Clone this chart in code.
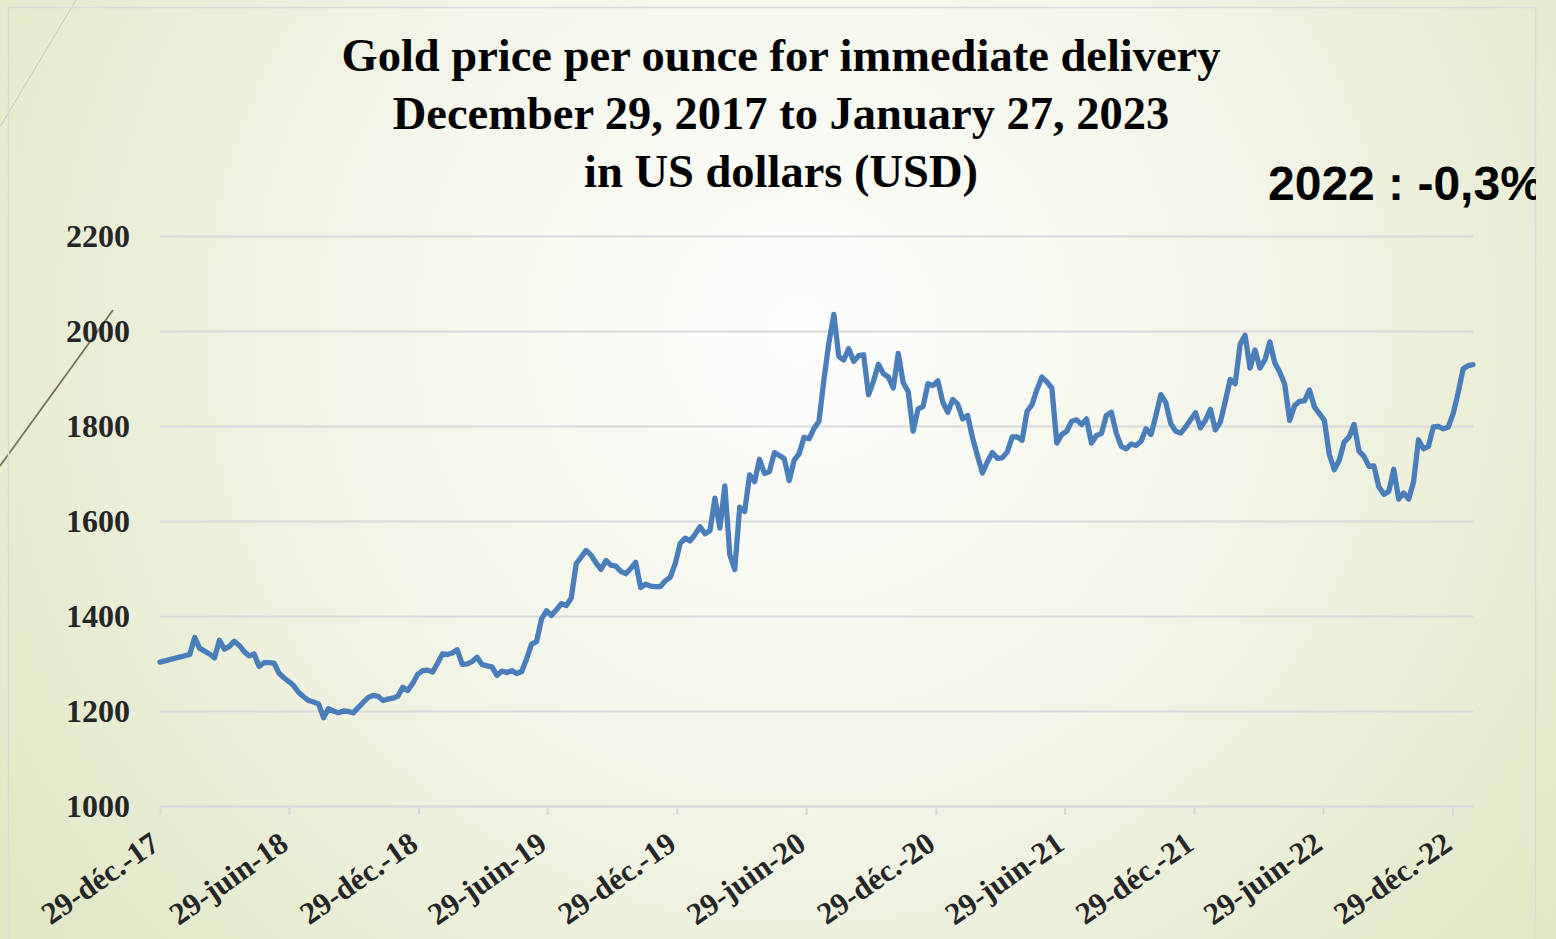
<!DOCTYPE html>
<html>
<head>
<meta charset="utf-8">
<script src="https://cdn.jsdelivr.net/npm/d3@7"></script>
<style>
  html, body { margin: 0; padding: 0; overflow: hidden; }
  svg { display: block; }
</style>
</head>
<body>
<script>
const WIDTH = 1556;
const HEIGHT = 939;
// plot box
const MARGIN = { top: 236, right: 83, bottom: 133, left: 160 };

const TITLE_LINES = [
  "Gold price per ounce for immediate delivery",
  "December 29, 2017 to January 27, 2023",
  "in US dollars (USD)",
];
const NOTE = "2022 : -0,3%";

// first point, then a gap, then one price per week (Friday)
const FIRST_DATE = "2017-12-29";
const FIRST_PRICE = 1303;
const WEEKLY_START = "2018-02-09";
const weeklyPrices = [
  1319, 1355, 1332, 1326, 1320, 1312, 1349, 1330, 1336, 1347,
  1338, 1325, 1316, 1320, 1294, 1302, 1302, 1301, 1280, 1270,
  1262, 1253, 1239, 1230, 1222, 1219, 1215, 1186, 1205, 1200,
  1196, 1200, 1199, 1196, 1207, 1218, 1228, 1233, 1231, 1222,
  1225, 1227, 1231, 1250, 1243, 1258, 1277, 1285, 1286, 1282,
  1300, 1320, 1319, 1322, 1329, 1298, 1299, 1304, 1313, 1298,
  1295, 1293, 1275, 1284, 1281, 1285, 1279, 1283, 1310, 1341,
  1346, 1394, 1411, 1401, 1413, 1426, 1422, 1438, 1510, 1524,
  1538, 1528, 1512, 1498, 1517, 1507, 1505, 1494, 1489, 1500,
  1513, 1460, 1467, 1463, 1462, 1462, 1474, 1482, 1511, 1553,
  1564, 1558, 1572, 1588, 1573, 1580, 1648, 1585, 1674, 1529,
  1498, 1629, 1620, 1697, 1683, 1730, 1700, 1704, 1744, 1738,
  1731, 1685, 1728, 1742, 1776, 1773, 1795, 1810, 1898, 1975,
  2035, 1946, 1939, 1963, 1936, 1948, 1950, 1866, 1894, 1930,
  1910, 1903, 1880, 1953, 1891, 1873, 1789, 1836, 1841, 1889,
  1885, 1895, 1850, 1829, 1856, 1846, 1815, 1822, 1775, 1737,
  1701, 1725, 1744, 1732, 1733, 1745, 1777, 1777, 1770, 1831,
  1845, 1877, 1903, 1893, 1880, 1764, 1782, 1789, 1810, 1813,
  1803, 1815, 1764, 1780, 1784, 1822, 1829, 1785, 1757, 1752,
  1762, 1759, 1768, 1794, 1782, 1822, 1866, 1849, 1805, 1789,
  1785, 1798, 1813, 1828, 1796, 1812, 1835, 1792, 1808, 1852,
  1898, 1889, 1972, 1991, 1922, 1960, 1922, 1939, 1977, 1933,
  1913, 1888, 1812, 1843, 1852, 1853, 1876, 1840, 1826, 1812,
  1740, 1708, 1728, 1766, 1777, 1803, 1747, 1736, 1715, 1716,
  1672, 1656, 1662, 1709, 1646, 1659, 1646, 1682, 1771, 1752,
  1757, 1798, 1799, 1794, 1798, 1826, 1870, 1920, 1927, 1929,
];

const X_DOMAIN = ["2017-12-29", "2023-01-27"];
const tickDates = [
  "2017-12-29", "2018-06-29", "2018-12-29", "2019-06-29", "2019-12-29",
  "2020-06-29", "2020-12-29", "2021-06-29", "2021-12-29", "2022-06-29",
  "2022-12-29",
];
const tickLabels = [
  "29-déc.-17", "29-juin-18", "29-déc.-18", "29-juin-19", "29-déc.-19",
  "29-juin-20", "29-déc.-20", "29-juin-21", "29-déc.-21", "29-juin-22",
  "29-déc.-22",
];
const yTicks = [1000, 1200, 1400, 1600, 1800, 2000, 2200];

const SERIF = "'Liberation Serif', 'DejaVu Serif', serif";
const LINE_COLOR = "#4a7ebb";
const GRID_COLOR = "#d9d9d9";

const parseDate = d3.timeParse("%Y-%m-%d");

// build the series
const series = [{ date: parseDate(FIRST_DATE), price: FIRST_PRICE }];
const weeklyStart = parseDate(WEEKLY_START);
weeklyPrices.forEach((p, i) => {
  series.push({ date: d3.timeDay.offset(weeklyStart, 7 * i), price: p });
});

const svg = d3
  .select("body")
  .append("svg")
  .attr("width", WIDTH)
  .attr("height", HEIGHT);

const defs = svg.append("defs");
const bg = defs
  .append("radialGradient")
  .attr("id", "bg")
  .attr("gradientUnits", "userSpaceOnUse")
  .attr("cx", 800)
  .attr("cy", 330)
  .attr("r", 950);
bg.append("stop").attr("offset", "0%").attr("stop-color", "#fdfdfb");
bg.append("stop").attr("offset", "45%").attr("stop-color", "#f4f6ea");
bg.append("stop").attr("offset", "100%").attr("stop-color", "#e1e8c6");

defs
  .append("clipPath")
  .attr("id", "frame-clip")
  .append("rect")
  .attr("x", 0)
  .attr("y", 0)
  .attr("width", 1536)
  .attr("height", HEIGHT);

svg.append("rect").attr("width", WIDTH).attr("height", HEIGHT).attr("fill", "url(#bg)");

// slide decoration on the left
svg
  .append("line")
  .attr("x1", 0).attr("y1", 127).attr("x2", 76).attr("y2", 0)
  .attr("stroke", "#c9cbb4").attr("stroke-width", 1);
svg
  .append("line")
  .attr("x1", 0).attr("y1", 466).attr("x2", 113).attr("y2", 310)
  .attr("stroke", "#7b7152").attr("stroke-width", 1.8);

// chart frame
svg
  .append("rect")
  .attr("x", 8.5)
  .attr("y", 7.5)
  .attr("width", 1527)
  .attr("height", 960)
  .attr("fill", "none")
  .attr("stroke", GRID_COLOR)
  .attr("stroke-width", 1.5);

const xScale = d3
  .scaleTime()
  .domain(X_DOMAIN.map(parseDate))
  .range([MARGIN.left, WIDTH - MARGIN.right]);

const yScale = d3
  .scaleLinear()
  .domain([1000, 2200])
  .range([HEIGHT - MARGIN.bottom, MARGIN.top]);

// y axis with gridlines
const yAxis = svg
  .append("g")
  .attr("transform", `translate(${MARGIN.left}, 0)`)
  .call(
    d3
      .axisLeft(yScale)
      .tickValues(yTicks)
      .tickSize(-(WIDTH - MARGIN.right - MARGIN.left))
      .tickPadding(30)
      .tickFormat(d3.format("d"))
  );
yAxis.select(".domain").remove();
yAxis.selectAll(".tick line").attr("stroke", GRID_COLOR).attr("stroke-width", 2);
yAxis
  .selectAll(".tick text")
  .attr("fill", "#262626")
  .attr("font-family", SERIF)
  .attr("font-weight", "bold")
  .attr("font-size", "32px");

// x axis
const xAxis = svg
  .append("g")
  .attr("transform", `translate(0, ${HEIGHT - MARGIN.bottom})`)
  .call(
    d3
      .axisBottom(xScale)
      .tickValues(tickDates.map(parseDate))
      .tickSizeInner(9)
      .tickSizeOuter(0)
      .tickFormat((d, i) => tickLabels[i])
  );
xAxis.select(".domain").attr("stroke", GRID_COLOR).attr("stroke-width", 2);
xAxis.selectAll(".tick line").attr("stroke", GRID_COLOR).attr("stroke-width", 2);
xAxis
  .selectAll(".tick text")
  .attr("fill", "#262626")
  .attr("font-family", SERIF)
  .attr("font-weight", "bold")
  .attr("font-size", "31px")
  .attr("text-anchor", "end")
  .attr("dy", null)
  .attr("y", null)
  .attr("transform", "translate(1, 42) rotate(-35)");

// price line
const line = d3
  .line()
  .x((d) => xScale(d.date))
  .y((d) => yScale(d.price));

svg
  .append("path")
  .datum(series)
  .attr("fill", "none")
  .attr("stroke", LINE_COLOR)
  .attr("stroke-width", 5.3)
  .attr("stroke-linejoin", "round")
  .attr("stroke-linecap", "round")
  .attr("d", line);

// title
svg
  .append("g")
  .selectAll("text")
  .data(TITLE_LINES)
  .join("text")
  .attr("x", 781)
  .attr("y", (d, i) => 71 + i * 58)
  .attr("text-anchor", "middle")
  .attr("font-family", SERIF)
  .attr("font-weight", "bold")
  .attr("font-size", "46.5px")
  .attr("fill", "#000")
  .text((d) => d);

// yearly change note, cut by the frame like in the slide
svg
  .append("text")
  .attr("clip-path", "url(#frame-clip)")
  .attr("x", 1268)
  .attr("y", 200)
  .attr("font-family", "'Liberation Sans', Arial, sans-serif")
  .attr("font-weight", "bold")
  .attr("font-size", "48px")
  .attr("fill", "#000")
  .text(NOTE);
</script>
</body>
</html>
